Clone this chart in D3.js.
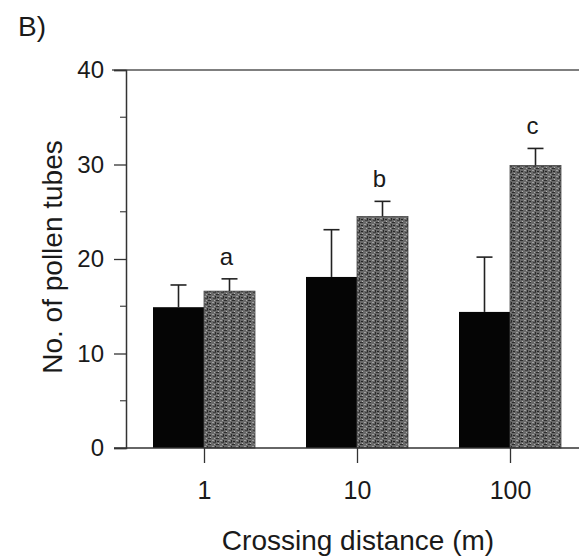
<!DOCTYPE html>
<html>
<head>
<meta charset="utf-8">
<script src="https://cdn.jsdelivr.net/npm/d3@7"></script>
<style>
  body { margin: 0; background: #fff; }
  text { font-family: "Liberation Sans", Arial, sans-serif; fill: #1a1a1a; }
</style>
</head>
<body>
<svg id="chart" width="579" height="557"></svg>
<script>
// data
const distances = ['1', '10', '100'];
const series = ['black', 'gray'];
const blackMeans = [14.9, 18.1, 14.4];
const blackErr = [2.35, 5.0, 5.8];
const grayMeans = [16.6, 24.5, 29.9];
const grayErr = [1.3, 1.6, 1.8];
const letters = ['a', 'b', 'c'];
const yTicks = [0, 10, 20, 30, 40];
const yMinor = [5, 15, 25, 35];

const svg = d3.select('#chart');
const plotLeft = 126, plotTop = 70, plotBottom = 448;

const x = d3.scalePoint()
  .domain(distances)
  .range([204, 510]);

const y = d3.scaleLinear()
  .domain([0, 40])
  .range([plotBottom, plotTop]);

const barW = 51;

// texture for the stippled bars
const defs = svg.append('defs');
const pat = defs.append('pattern')
  .attr('id', 'stipple')
  .attr('patternUnits', 'userSpaceOnUse')
  .attr('width', 8).attr('height', 6);
pat.append('rect').attr('width', 8).attr('height', 6).attr('fill', '#6a6a6a');
const specks = [[0, 0, 3, 1, '#2e2e2e'], [4, 2, 2, 1, '#a0a0a0'], [1, 3, 2, 1, '#262626'],
  [5, 4, 3, 1, '#404040'], [6, 0, 1, 1, '#aaa'], [2, 5, 1, 1, '#b5b5b5'], [7, 2, 1, 2, '#2a2a2a']];
specks.forEach(s => pat.append('rect')
  .attr('x', s[0]).attr('y', s[1]).attr('width', s[2]).attr('height', s[3]).attr('fill', s[4]));

// frame line at the top
svg.append('line')
  .attr('x1', 112).attr('x2', 579).attr('y1', plotTop).attr('y2', plotTop)
  .attr('stroke', '#555').attr('stroke-width', 1.5);

// y axis
const yAxis = svg.append('g')
  .attr('transform', `translate(${plotLeft},0)`)
  .call(d3.axisLeft(y).tickValues(yTicks).tickSize(12).tickPadding(10).tickFormat(d3.format('d')));
yAxis.select('.domain').attr('stroke', '#333').attr('stroke-width', 1.5);
yAxis.selectAll('.tick line').attr('stroke', '#333').attr('stroke-width', 1.3);
yAxis.selectAll('.tick text')
  .style('font-size', '24px').style('font-family', '"Liberation Sans", Arial, sans-serif').attr('fill', '#1a1a1a');

svg.append('g')
  .selectAll('line')
  .data(yMinor)
  .join('line')
  .attr('x1', plotLeft - 6).attr('x2', plotLeft)
  .attr('y1', d => y(d)).attr('y2', d => y(d))
  .attr('stroke', '#444').attr('stroke-width', 1.2);

// bars
const groups = distances.map((d, i) => ({ d, i }));

svg.append('g')
  .selectAll('rect')
  .data(groups)
  .join('rect')
  .attr('x', g => x(g.d) - barW)
  .attr('y', g => y(blackMeans[g.i]))
  .attr('width', barW)
  .attr('height', g => y(0) - y(blackMeans[g.i]))
  .attr('fill', '#050505');

svg.append('g')
  .selectAll('rect')
  .data(groups)
  .join('rect')
  .attr('x', g => x(g.d))
  .attr('y', g => y(grayMeans[g.i]))
  .attr('width', barW)
  .attr('height', g => y(0) - y(grayMeans[g.i]))
  .attr('fill', 'url(#stipple)')
  .attr('stroke', '#4a4a4a').attr('stroke-width', 0.8);

// error bars (upper only)
const errs = [];
groups.forEach(g => {
  errs.push({ cx: x(g.d) - barW / 2, m: blackMeans[g.i], e: blackErr[g.i] });
  errs.push({ cx: x(g.d) + barW / 2, m: grayMeans[g.i], e: grayErr[g.i] });
});
const eg = svg.append('g').attr('stroke', '#222').attr('stroke-width', 1.6);
eg.selectAll('line.v')
  .data(errs)
  .join('line')
  .attr('class', 'v')
  .attr('x1', e => e.cx).attr('x2', e => e.cx)
  .attr('y1', e => y(e.m)).attr('y2', e => y(e.m + e.e));
eg.selectAll('line.cap')
  .data(errs)
  .join('line')
  .attr('class', 'cap')
  .attr('x1', e => e.cx - 8).attr('x2', e => e.cx + 8)
  .attr('y1', e => y(e.m + e.e)).attr('y2', e => y(e.m + e.e));

// significance letters
svg.append('g')
  .selectAll('text')
  .data(groups)
  .join('text')
  .attr('x', g => x(g.d) + barW / 2 - 3)
  .attr('y', g => y(grayMeans[g.i] + grayErr[g.i]) - 14)
  .attr('text-anchor', 'middle')
  .style('font-size', '24px')
  .text(g => letters[g.i]);

// x axis
const xAxis = svg.append('g')
  .attr('transform', `translate(0,${plotBottom})`)
  .call(d3.axisBottom(x).tickSize(15).tickPadding(18));
xAxis.select('.domain').remove();
xAxis.selectAll('.tick line').attr('stroke', '#333').attr('stroke-width', 1.3);
xAxis.selectAll('.tick text')
  .style('font-size', '25px').style('font-family', '"Liberation Sans", Arial, sans-serif').attr('fill', '#1a1a1a');
svg.append('line')
  .attr('x1', 114).attr('x2', 579).attr('y1', plotBottom).attr('y2', plotBottom)
  .attr('stroke', '#333').attr('stroke-width', 1.5);

// labels
svg.append('text')
  .attr('x', 358).attr('y', 550)
  .attr('text-anchor', 'middle')
  .style('font-size', '28px')
  .text('Crossing distance (m)');

svg.append('text')
  .attr('transform', 'translate(62,257) rotate(-90)')
  .attr('text-anchor', 'middle')
  .style('font-size', '28px')
  .text('No. of pollen tubes');

svg.append('text')
  .attr('x', 18).attr('y', 36)
  .style('font-size', '28px')
  .text('B)');
</script>
</body>
</html>
